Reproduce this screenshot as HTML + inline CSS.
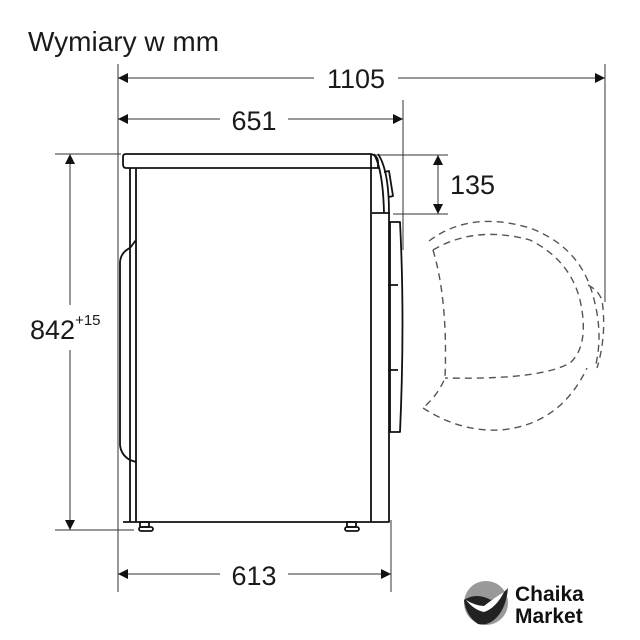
<!DOCTYPE html>
<html><head><meta charset="utf-8"><style>
html,body{margin:0;padding:0;background:#fff}
svg{display:block}
text{font-family:"Liberation Sans",sans-serif;fill:#1a1a1a}
</style></head><body>
<svg width="640" height="640" viewBox="0 0 640 640" xmlns="http://www.w3.org/2000/svg">
<defs>
<marker id="a" viewBox="0 0 10 10" refX="10" refY="5" markerWidth="14" markerHeight="10" markerUnits="userSpaceOnUse" orient="auto-start-reverse"><path d="M0,0 L10,5 L0,10z" fill="#111"/></marker>
</defs>
<text x="28" y="51" font-size="28">Wymiary w mm</text>
<g stroke="#333" stroke-width="1" fill="none">
<line x1="118" y1="64" x2="118" y2="592"/>
<line x1="605" y1="64" x2="605" y2="302"/>
<line x1="403" y1="100" x2="403" y2="250"/>
<line x1="391" y1="520" x2="391" y2="592"/>
<line x1="55" y1="154" x2="121" y2="154"/>
<line x1="55" y1="530" x2="134" y2="530"/>
<line x1="375" y1="155" x2="448" y2="155"/>
<line x1="393" y1="214" x2="448" y2="214"/>
<line x1="118" y1="78" x2="314" y2="78" marker-start="url(#a)"/>
<line x1="398" y1="78" x2="605" y2="78" marker-end="url(#a)"/>
<line x1="118" y1="119" x2="220" y2="119" marker-start="url(#a)"/>
<line x1="288" y1="119" x2="403" y2="119" marker-end="url(#a)"/>
<line x1="118" y1="574" x2="220" y2="574" marker-start="url(#a)"/>
<line x1="288" y1="574" x2="391" y2="574" marker-end="url(#a)"/>
<line x1="70" y1="154" x2="70" y2="305" marker-start="url(#a)"/>
<line x1="70" y1="350" x2="70" y2="530" marker-end="url(#a)"/>
<line x1="438" y1="155" x2="438" y2="214" marker-start="url(#a)" marker-end="url(#a)"/>
</g>
<text x="356" y="88" font-size="27" text-anchor="middle">1105</text>
<text x="254" y="130" font-size="27" text-anchor="middle">651</text>
<text x="254" y="585" font-size="27" text-anchor="middle">613</text>
<text x="450" y="194" font-size="27">135</text>
<text x="30" y="339" font-size="27">842<tspan font-size="15" dy="-14">+15</tspan></text>
<g stroke="#111" stroke-width="1.8" fill="none" stroke-linejoin="round">
<path d="M126,154 H371 Q378,156 378,162 V168 H126 Q123,168 123,164 V157 Q123,154 126,154z"/>
<line x1="371" y1="154" x2="371" y2="168"/>
<path d="M130,168 V522 M136,168 V522 M123,522 H389 V213"/>
<path d="M371,168 V522"/>
<path d="M374,154 Q383,170 384,213 M378,154 Q389,170 389,213"/>
<path d="M384,172 L389,171 L393,196 L389,197"/>
<path d="M372,213 H390"/>
<path d="M136,240 L130,248 Q121,252 120,262 V445 Q121,455 130,460 L136,462"/>
<path d="M390,222 H400 Q405,320 400,432 H390 Z M388,285 H398 M388,370 H398 M390,222 V432"/>
<rect x="140" y="522" width="9" height="5"/><rect x="139" y="527" width="14" height="4" rx="2"/>
<rect x="347" y="522" width="9" height="5"/><rect x="345" y="527" width="14" height="4" rx="2"/>
</g>
<g stroke="#555" stroke-width="1.4" fill="none" stroke-dasharray="7,5">
<path d="M429,241 Q470,210 530,228 Q575,245 590,286 Q605,330 595,368"/>
<path d="M433,250 Q475,225 530,240 Q570,260 580,300 Q590,345 570,363 Q540,380 445,378"/>
<path d="M433,250 Q448,300 445,378 Q438,395 423,408"/>
<path d="M423,408 Q460,432 500,430 Q560,425 587,368"/>
<path d="M588,285 Q598,290 602,300 Q607,335 597,368"/>
</g>
<circle cx="486" cy="603" r="22" fill="#999"/>
<path d="M464,600 Q476,592 491,600 Q501,596 508,588 Q506,610 494,620 Q486,626 478,624 Q466,616 464,600z" fill="#222"/>
<path d="M466,600 Q476,606 484,606 Q494,598 504,592 Q496,608 484,612 Q474,610 466,600z" fill="#fff"/>
<text x="515" y="601" font-size="21" font-weight="bold" style="fill:#111">Chaika</text>
<text x="515" y="623" font-size="21" font-weight="bold" style="fill:#111">Market</text>
</svg>
</body></html>
